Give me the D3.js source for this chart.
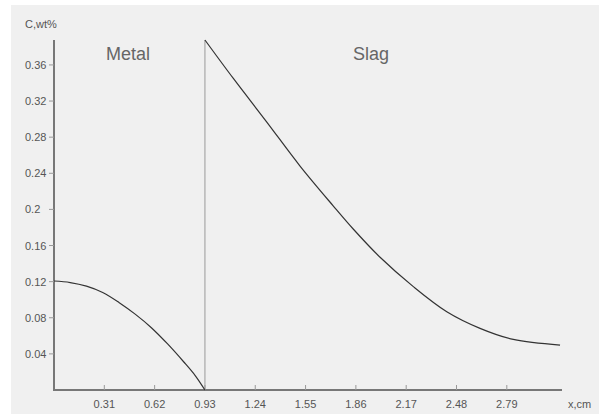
<!DOCTYPE html>
<html><head><meta charset="utf-8">
<script src="https://cdn.jsdelivr.net/npm/d3@7/dist/d3.min.js"></script>
<style>body{margin:0;background:#fff}svg{display:block}</style>
</head><body>
<script>
const xTicks = [0.31, 0.62, 0.93, 1.24, 1.55, 1.86, 2.17, 2.48, 2.79];
const yTicks = [0.04, 0.08, 0.12, 0.16, 0.2, 0.24, 0.28, 0.32, 0.36];
const yTickLabels = ["0.04","0.08","0.12","0.16","0.2 ","0.24","0.28","0.32","0.36"];
const metalX = [0, 0.1, 0.2, 0.3, 0.4, 0.5, 0.6, 0.7, 0.8, 0.87, 0.93];
const metalC = [0.1207, 0.119, 0.115, 0.108, 0.097, 0.084, 0.069, 0.051, 0.031, 0.016, 0];
const slagX = [0.93, 1.105, 1.31, 1.516, 1.72, 1.845, 2.009, 2.214, 2.42, 2.625, 2.83, 3.118];
const slagC = [0.3876, 0.345, 0.297, 0.248, 0.204, 0.178, 0.147, 0.1145, 0.0867, 0.0683, 0.056, 0.0498];
const interfaceX = 0.93;

const W = 599, H = 414;
const svg = d3.select("body").append("svg").attr("width", W).attr("height", H);
svg.append("rect").attr("x", 11).attr("y", 5).attr("width", W - 11).attr("height", H - 5).attr("fill", "#f0f0f0");

const x = d3.scaleLinear().domain([0, 3.13]).range([54, 562]);
const y = d3.scaleLinear().domain([0, 0.3876]).range([390, 40]);
const font = "Liberation Sans, Arial, sans-serif";
const txt = "#555";

// y axis
svg.append("line").attr("x1", x(0)).attr("x2", x(0)).attr("y1", y(0) + 1).attr("y2", y.range()[1])
  .attr("stroke", "#777").attr("stroke-width", 2);
// x axis
svg.append("line").attr("x1", x(0) - 1).attr("x2", x.range()[1]).attr("y1", y(0)).attr("y2", y(0))
  .attr("stroke", "#777").attr("stroke-width", 2);

// y ticks
const yg = svg.append("g");
yTicks.forEach((v, i) => {
  yg.append("line").attr("x1", x(0) - 5).attr("x2", x(0)).attr("y1", y(v)).attr("y2", y(v))
    .attr("stroke", "#999").attr("stroke-width", 1);
  yg.append("text").attr("x", 25).attr("y", y(v) + 4).attr("font-family", font).attr("font-size", 11)
    .attr("fill", txt).attr("xml:space", "preserve").text(yTickLabels[i]);
});
// x ticks
const xg = svg.append("g");
xTicks.forEach(v => {
  xg.append("line").attr("x1", x(v)).attr("x2", x(v)).attr("y1", y(0) - 5).attr("y2", y(0))
    .attr("stroke", "#999").attr("stroke-width", 1);
  xg.append("text").attr("x", x(v)).attr("y", 408).attr("text-anchor", "middle").attr("font-family", font)
    .attr("font-size", 11).attr("fill", txt).text(d3.format(".2f")(v));
});

svg.append("text").attr("x", 25).attr("y", 28).attr("font-family", font).attr("font-size", 11).attr("fill", txt).text("C,wt%");
svg.append("text").attr("x", 568).attr("y", 408).attr("font-family", font).attr("font-size", 11).attr("fill", txt).text("x,cm");

// interface line
svg.append("line").attr("x1", x(interfaceX)).attr("x2", x(interfaceX)).attr("y1", y(0)).attr("y2", y.range()[1])
  .attr("stroke", "#999").attr("stroke-width", 1);

const line = d3.line().x(d => x(d[0])).y(d => y(d[1])).curve(d3.curveCatmullRom.alpha(0.5));
svg.append("path").attr("d", line(metalX.map((v, i) => [v, metalC[i]])))
  .attr("fill", "none").attr("stroke", "#333").attr("stroke-width", 1.2);
svg.append("path").attr("d", line(slagX.map((v, i) => [v, slagC[i]])))
  .attr("fill", "none").attr("stroke", "#333").attr("stroke-width", 1.2);

svg.append("text").attr("x", 106).attr("y", 60).attr("font-family", font).attr("font-size", 18).attr("fill", "#666").text("Metal");
svg.append("text").attr("x", 353).attr("y", 60).attr("font-family", font).attr("font-size", 18).attr("fill", "#666").text("Slag");
</script>
</body></html>
